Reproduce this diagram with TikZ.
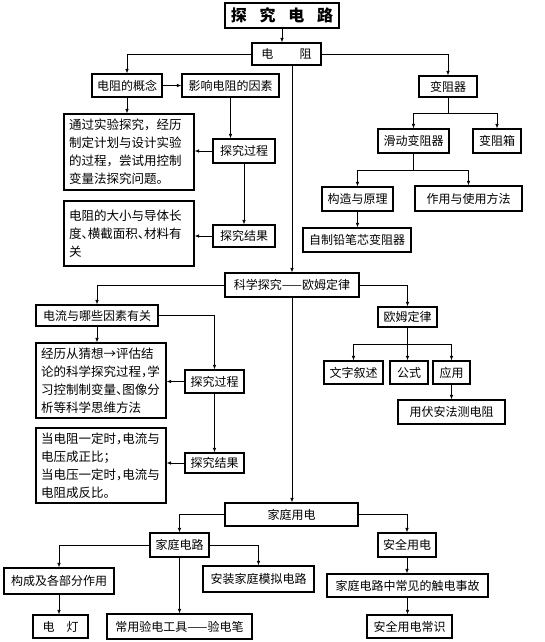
\documentclass[tikz,border=0pt]{standalone}
\usepackage{fontspec}
\setmainfont{Noto Sans CJK SC}
\usetikzlibrary{arrows.meta}
\newcommand\halfp[1]{\makebox[.5em][l]{#1}}
\begin{document}
\begin{tikzpicture}
        [
            x=1pt, y=-1pt,
            block/.style={rectangle, draw=black, line width=1.1pt, inner sep=2pt, font=\fontsize{12}{14}\selectfont},
            note/.style={block, align=left, anchor=center, inner xsep=5pt, text width=120pt, font=\fontsize{12.5}{18}\selectfont},
            link/.style={line width=0.7pt, -{Latex[length=4.5pt,width=3.5pt]}},
            seg/.style={line width=0.7pt}
        ]
        \useasboundingbox (0,0) rectangle (544,642);
        % top
        \node[block, minimum width=114pt, minimum height=25pt, font=\fontsize{16}{18}\selectfont\bfseries] (title) at (282,15.5) {探\hspace{.8em}究\hspace{.8em}电\hspace{.8em}路};
        \node[block, minimum width=69pt, minimum height=22pt] (dianzu) at (286.5,54) {电\hspace{2.2em}阻};
        \draw[link] (title.south) -- (title.south |- dianzu.north);
        % resistance
        \node[block, minimum width=70pt, minimum height=23pt] (gainian) at (127,85.5) {电阻的概念};
        \node[block, minimum width=97pt, minimum height=23pt] (yingxiang) at (230.5,85.5) {影响电阻的因素};
        \node[note, minimum height=76pt] (text1) at (129,152) {通过实验探究，经历\\制定计划与设计实验\\的过程，尝试用控制\\变量法探究问题。};
        \node[block, minimum width=62pt, minimum height=24pt] (guocheng1) at (244,151) {探究过程};
        \node[block, minimum width=62pt, minimum height=22pt] (jieguo1) at (244,236) {探究结果};
        \node[note, minimum height=65pt] (text2) at (129,233.5) {电阻的大小与导体长\\度\halfp{、}横截面积\halfp{、}材料有\\关};
        \draw[link] (dianzu.west) -| (gainian.north);
        \draw[link] (gainian.east) -- (yingxiang.west);
        \draw[link] (gainian.south) -- (gainian.south |- text1.north);
        \draw[link] (yingxiang.south) -- (yingxiang.south |- guocheng1.north);
        \draw[link] (guocheng1.west) -- (guocheng1.west -| text1.east);
        \draw[link] (guocheng1.south) -- (jieguo1.north);
        \draw[link] (jieguo1.west) -- (jieguo1.west -| text2.east);
        % rheostat
        \node[block, minimum width=58pt, minimum height=21pt] (bianzuqi) at (448,86.5) {变阻器};
        \node[block, minimum width=71pt, minimum height=24pt] (huadong) at (413.5,141) {滑动变阻器};
        \node[block, minimum width=48pt, minimum height=24pt] (xiang) at (497,141) {变阻箱};
        \node[block, minimum width=71pt, minimum height=24pt] (gouzao) at (357.5,199) {构造与原理};
        \node[block, minimum width=107pt, minimum height=25pt] (zuoyong) at (468.5,198.5) {作用与使用方法};
        \node[block, minimum width=108pt, minimum height=24pt] (zizhi) at (357,240) {自制铅笔芯变阻器};
        \coordinate (bz) at (448,113);
        \coordinate (hd) at (413.5,170);
        \draw[link] (dianzu.east) -| (bianzuqi.north);
        \draw[seg] (bianzuqi.south) -- (bz);
        \draw[link] (bz) -| (huadong.north);
        \draw[link] (bz) -| (xiang.north);
        \draw[seg] (huadong.south) -- (hd);
        \draw[link] (hd) -| (gouzao.north);
        \draw[link] (hd) -| (zuoyong.north);
        \draw[link] (gouzao.south) -- (gouzao.south |- zizhi.north);
        % ohm
        \node[block, minimum width=134pt, minimum height=24pt] (kexue) at (292,285) {科学探究——欧姆定律};
        \draw[link] (dianzu.south -| kexue.north) -- (kexue.north);
        \node[block, minimum width=122pt, minimum height=21pt] (dianliu) at (97,315.5) {电流与哪些因素有关};
        \node[note, minimum height=75pt] (text3) at (101,380.5) {经历从猜想→评估结\\论的科学探究过程\halfp{，}学\\习控制制变量\halfp{、}图像分\\析等科学思维方法};
        \node[block, minimum width=59pt, minimum height=23pt] (guocheng2) at (214.5,381.5) {探究过程};
        \node[block, minimum width=59pt, minimum height=20pt] (jieguo2) at (214.5,463) {探究结果};
        \node[note, minimum height=75pt] (text4) at (101,465.5) {当电阻一定时\halfp{，}电流与\\电压成正比；\\当电压一定时\halfp{，}电流与\\电阻成反比。};
        \draw[link] (kexue.west) -| (dianliu.north);
        \draw[link] (dianliu.south) -- (dianliu.south |- text3.north);
        \draw[link] (dianliu.east) -| (guocheng2.north);
        \draw[link] (guocheng2.west) -- (guocheng2.west -| text3.east);
        \draw[link] (guocheng2.south) -- (jieguo2.north);
        \draw[link] (jieguo2.west) -- (jieguo2.west -| text4.east);
        \node[block, minimum width=59pt, minimum height=20pt] (oumu) at (407.5,317) {欧姆定律};
        \node[block, minimum width=59pt, minimum height=23pt] (wenzi) at (353.5,372.5) {文字叙述};
        \node[block, minimum width=38pt, minimum height=23pt] (gongshi) at (409,372.5) {公式};
        \node[block, minimum width=37pt, minimum height=23pt] (yingyong) at (451.5,372.5) {应用};
        \node[block, minimum width=107pt, minimum height=24pt] (fuan) at (451.5,412) {用伏安法测电阻};
        \coordinate (om) at (407.5,344);
        \draw[link] (kexue.east) -| (oumu.north);
        \draw[seg] (oumu.south) -- (om);
        \draw[link] (om) -| (wenzi.north);
        \draw[link] (om) -- (om |- gongshi.north);
        \draw[link] (om) -| (yingyong.north);
        \draw[link] (yingyong.south) -- (fuan.north);
        % household
        \node[block, minimum width=133pt, minimum height=23pt] (jiating) at (291.5,514.5) {家庭用电};
        \draw[link] (kexue.south) -- (kexue.south |- jiating.north);
        \node[block, minimum width=59pt, minimum height=24pt] (dianlu) at (179.5,545) {家庭电路};
        \node[block, minimum width=58pt, minimum height=24pt] (anquan) at (407,545) {安全用电};
        \node[block, minimum width=110pt, minimum height=26pt] (goucheng) at (59,581) {构成及各部分作用};
        \node[block, minimum width=111pt, minimum height=26pt] (anzhuang) at (258.5,579) {安装家庭模拟电路};
        \node[block, minimum width=55pt, minimum height=23pt] (diandeng) at (60.5,626.5) {电\hspace{1em}灯};
        \node[block, minimum width=145pt, minimum height=25pt] (yandian) at (179.5,626.5) {常用验电工具——验电笔};
        \node[block, minimum width=161pt, minimum height=23pt] (chudian) at (407.5,585.5) {家庭电路中常见的触电事故};
        \node[block, minimum width=85pt, minimum height=23pt] (changshi) at (409.5,626.5) {安全用电常识};
        \draw[link] (jiating.west) -| (dianlu.north);
        \draw[link] (jiating.east) -| (anquan.north);
        \draw[link] (dianlu.west) -| (goucheng.north);
        \draw[link] (dianlu.east) -| (anzhuang.north);
        \draw[link] (dianlu.south) -- (yandian.north);
        \draw[link] (goucheng.south) -- (goucheng.south |- diandeng.north);
        \draw[link] (anquan.south) -- (anquan.south |- chudian.north);
        \draw[link] (chudian.south) -- (chudian.south |- changshi.north);
\end{tikzpicture}
\end{document}
